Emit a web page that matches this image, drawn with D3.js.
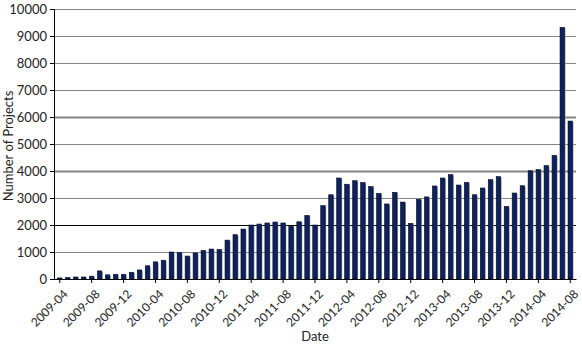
<!DOCTYPE html>
<html>
<head>
<meta charset="utf-8">
<script src="https://cdn.jsdelivr.net/npm/d3@7"></script>
<style>
  body { margin: 0; background: #fff; }
  svg text { font-family: Lato, "Open Sans", sans-serif; fill: #222; }
</style>
</head>
<body>
<script>
  // monthly counts, 2009-04 .. 2014-08
  var months = [];
  (function() {
    var y = 2009, m = 4;
    while (y < 2014 || (y === 2014 && m <= 8)) {
      months.push(y + '-' + (m < 10 ? '0' + m : m));
      m++;
      if (m > 12) { m = 1; y++; }
    }
  })();

  var projects = [
    40, 55, 75, 75, 105, 300, 155, 175, 175, 250, 335, 490,
    635, 695, 1000, 975, 850, 965, 1060, 1110, 1090, 1440, 1640, 1850,
    2000, 2035, 2075, 2110, 2075, 1950, 2120, 2355, 2000, 2715, 3120, 3740,
    3510, 3640, 3570, 3420, 3170, 2780, 3210, 2850, 2060, 2950, 3040, 3445,
    3740, 3865, 3480, 3580, 3120, 3370, 3680, 3790, 2690, 3185, 3455, 4010,
    4050, 4200, 4580, 9320, 5850
  ];

  var yTicks = [0, 1000, 2000, 3000, 4000, 5000, 6000, 7000, 8000, 9000, 10000];
  var xTickLabels = months.filter(function(d, i) { return i % 4 === 0; });

  var data = months.map(function(d, i) { return { month: d, value: projects[i] }; });

  var W = 582, H = 346;
  var margin = { top: 9, right: 6, bottom: 67, left: 54 };
  var innerW = W - margin.left - margin.right,
      innerH = H - margin.top - margin.bottom;

  var svg = d3.select('body').append('svg')
    .attr('width', W)
    .attr('height', H);

  var g = svg.append('g')
    .attr('transform', 'translate(' + margin.left + ',' + margin.top + ')');

  var x = d3.scaleBand()
    .domain(months)
    .range([0, innerW])
    .padding(0.44);

  var y = d3.scaleLinear()
    .domain([0, 10000])
    .range([innerH, 0]);

  /* ------- GRID ------- */
  g.append('g')
    .attr('class', 'grid')
    .selectAll('line')
    .data(yTicks.slice(1))
    .enter()
    .append('line')
    .attr('x1', 0)
    .attr('x2', innerW)
    .attr('y1', function(d) { return Math.round(y(d)) + 0.5; })
    .attr('y2', function(d) { return Math.round(y(d)) + 0.5; })
    .attr('stroke', function(d) { return d === 2000 ? '#000' : '#858585'; })
    .attr('stroke-width', function(d) { return (d === 4000 || d === 6000) ? 1.8 : 1; });

  /* ------- BARS ------- */
  var bars = g.append('g').attr('class', 'bars');

  bars.selectAll('rect.shadow')
    .data(data)
    .enter()
    .append('rect')
    .attr('class', 'shadow')
    .attr('x', function(d) { return x(d.month) + 1; })
    .attr('y', function(d) { return y(d.value) + 1; })
    .attr('width', x.bandwidth())
    .attr('height', function(d) { return innerH - y(d.value) - 1; })
    .attr('fill', '#a0a0a0');

  bars.selectAll('rect.bar')
    .data(data)
    .enter()
    .append('rect')
    .attr('class', 'bar')
    .attr('x', function(d) { return x(d.month); })
    .attr('y', function(d) { return y(d.value); })
    .attr('width', x.bandwidth())
    .attr('height', function(d) { return innerH - y(d.value); })
    .attr('fill', '#0c2260')
    .attr('stroke', '#050a1e')
    .attr('stroke-width', 0.6);

  /* ------- AXES ------- */
  var yAxis = g.append('g')
    .call(d3.axisLeft(y).tickValues(yTicks).tickFormat(d3.format('d')).tickSize(4).tickPadding(3));
  yAxis.select('.domain').attr('stroke', '#000');
  yAxis.selectAll('text').style('font-size', '13px').attr('fill', '#222');

  var xAxis = g.append('g')
    .attr('transform', 'translate(0,' + innerH + ')')
    .call(d3.axisBottom(x).tickValues(xTickLabels).tickSize(4).tickSizeOuter(0));
  xAxis.select('.domain').attr('stroke', '#000');
  xAxis.selectAll('.tick line').attr('stroke', '#000');
  xAxis.selectAll('text')
    .style('font-size', '12px')
    .attr('fill', '#222')
    .attr('text-anchor', 'end')
    .attr('dy', '0.35em')
    .attr('transform', 'translate(1,8) rotate(-45)');

  /* ------- TITLES ------- */
  svg.append('text')
    .attr('x', margin.left + innerW / 2)
    .attr('y', 341)
    .attr('text-anchor', 'middle')
    .style('font-size', '13px')
    .text('Date');

  svg.append('text')
    .attr('transform', 'translate(13,' + (margin.top + innerH / 2 + 2) + ') rotate(-90)')
    .attr('text-anchor', 'middle')
    .style('font-size', '13px')
    .text('Number of Projects');
</script>
</body>
</html>
